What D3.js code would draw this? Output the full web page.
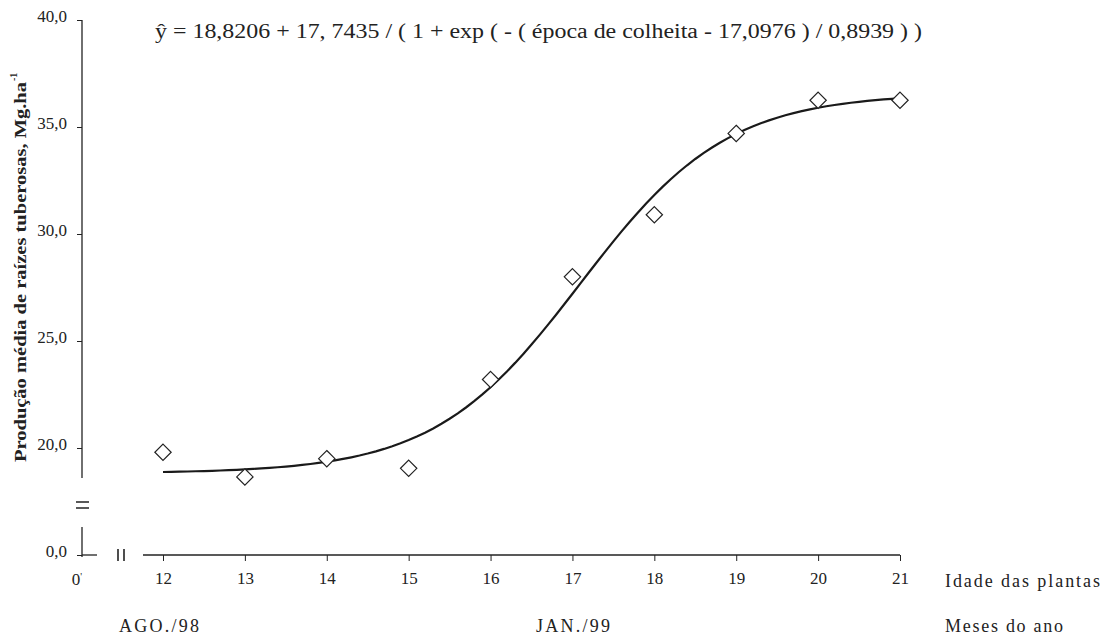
<!DOCTYPE html>
<html>
<head>
<meta charset="utf-8">
<script src="https://cdn.jsdelivr.net/npm/d3@7"></script>
<style>
  body { margin: 0; background: #fff; }
  svg text { font-family: "Liberation Serif", "DejaVu Serif", serif !important; fill: #222; }
</style>
</head>
<body>
<div id="chart"></div>
<script>
// observed points (age in months, yield Mg/ha)
const ages = [12, 13, 14, 15, 16, 17, 18, 19, 20, 21];
const yields = [19.8, 18.65, 19.5, 19.05, 23.2, 28.0, 30.9, 34.7, 36.25, 36.25];
const yTicks = [0, 20, 25, 30, 35, 40];
const yTickLabels = ["0,0", "20,0", "25,0", "30,0", "35,0", "40,0"];
// fitted logistic model shown on the chart
const fitParams = [18.8206, 17.7435, 17.0976, 0.8939];
const equation = "ŷ = 18,8206 + 17, 7435 /  ( 1 + exp ( - ( época de colheita - 17,0976 ) / 0,8939 ) )";

const width = 1102, height = 637;

const svg = d3.select("#chart")
  .append("svg")
  .attr("width", width)
  .attr("height", height);

// broken axes: piecewise scales (gap between 0 and 16 on y, 0 and 12 on x)
const x = d3.scaleLinear().domain([0, 12, 21]).range([82, 163, 900]);
const y = d3.scaleLinear().domain([0, 16, 40]).range([555, 533.6, 20]);

// y axis (ticks only, line drawn by hand because of the break)
const yAxis = svg.append("g")
  .attr("transform", "translate(82,0)")
  .call(d3.axisLeft(y).tickValues(yTicks).tickSize(5).tickPadding(10)
    .tickFormat((d, i) => yTickLabels[i]));
yAxis.select(".domain").remove();
yAxis.selectAll("line").attr("stroke", "#222");
yAxis.selectAll("text").style("font-size", "17px").attr("dy", "0.1em");

svg.append("line").attr("x1", 82).attr("x2", 82).attr("y1", y(40)).attr("y2", 478)
  .attr("stroke", "#222").attr("stroke-width", 1.3);
svg.append("line").attr("x1", 82).attr("x2", 82).attr("y1", 527).attr("y2", 557)
  .attr("stroke", "#222").attr("stroke-width", 1.3);
// "=" break mark on y
[502, 508].forEach(v => {
  svg.append("line").attr("x1", 76).attr("x2", 89).attr("y1", v).attr("y2", v)
    .attr("stroke", "#222").attr("stroke-width", 1.5);
});

// x axis
const xAxis = svg.append("g")
  .attr("transform", "translate(0,555)")
  .call(d3.axisBottom(x).tickValues(ages).tickSize(6).tickPadding(12).tickFormat(d3.format("d")));
xAxis.select(".domain").remove();
xAxis.selectAll("line").attr("stroke", "#222");
xAxis.selectAll("text").style("font-size", "17px").attr("dy", "0.65em");

svg.append("line").attr("x1", 82).attr("x2", 97).attr("y1", 555).attr("y2", 555)
  .attr("stroke", "#222").attr("stroke-width", 1.3);
svg.append("line").attr("x1", 143).attr("x2", x(21)).attr("y1", 555).attr("y2", 555)
  .attr("stroke", "#222").attr("stroke-width", 1.3);
// "||" break mark on x
[118, 124].forEach(v => {
  svg.append("line").attr("x1", v).attr("x2", v).attr("y1", 549).attr("y2", 561)
    .attr("stroke", "#222").attr("stroke-width", 1.6);
});

const zeroLbl = svg.append("text").attr("x", x(0) - 5).attr("y", 585)
  .attr("text-anchor", "middle").style("font-size", "17px").text("0");
zeroLbl.append("tspan").attr("dy", "-0.55em").style("font-size", "10px").text("'");

// fitted curve
const [a, b, c, s] = fitParams;
const fit = t => a + b / (1 + Math.exp(-(t - c) / s));
const curveX = d3.range(12, 21.001, 0.1);
svg.append("path")
  .datum(curveX)
  .attr("fill", "none")
  .attr("stroke", "#1a1a1a")
  .attr("stroke-width", 2.2)
  .attr("d", d3.line().x(d => x(d)).y(d => y(fit(d))));

// observed points
svg.selectAll(".pt")
  .data(ages)
  .enter()
  .append("path")
  .attr("class", "pt")
  .attr("transform", (d, i) => `translate(${x(d)},${y(yields[i])})`)
  .attr("d", d3.symbol(d3.symbolDiamond2, 170)())
  .attr("fill", "white")
  .attr("stroke", "#222")
  .attr("stroke-width", 1.2);

// equation
svg.append("text")
  .attr("x", 155).attr("y", 38)
  .attr("textLength", 767).attr("lengthAdjust", "spacingAndGlyphs")
  .style("font-size", "20px")
  .text(equation);

// y title
svg.append("text")
  .attr("transform", "translate(26,462) rotate(-90)")
  .attr("textLength", 380).attr("lengthAdjust", "spacingAndGlyphs")
  .style("font-size", "17px").style("font-weight", "bold")
  .text("Produção média de raízes tuberosas,  Mg.ha");
svg.append("text")
  .attr("transform", "translate(17,81) rotate(-90)")
  .style("font-size", "10px").style("font-weight", "bold")
  .text("-1");

// side / bottom labels
svg.append("text").attr("x", 945).attr("y", 587).attr("textLength", 155)
  .style("font-size", "18px").text("Idade das plantas");
svg.append("text").attr("x", 945).attr("y", 632).attr("textLength", 118)
  .style("font-size", "18px").text("Meses do ano");
svg.append("text").attr("x", 119).attr("y", 632).attr("textLength", 80)
  .style("font-size", "18px").text("AGO./98");
svg.append("text").attr("x", 536).attr("y", 632).attr("textLength", 74)
  .style("font-size", "18px").text("JAN./99");
</script>
</body>
</html>
